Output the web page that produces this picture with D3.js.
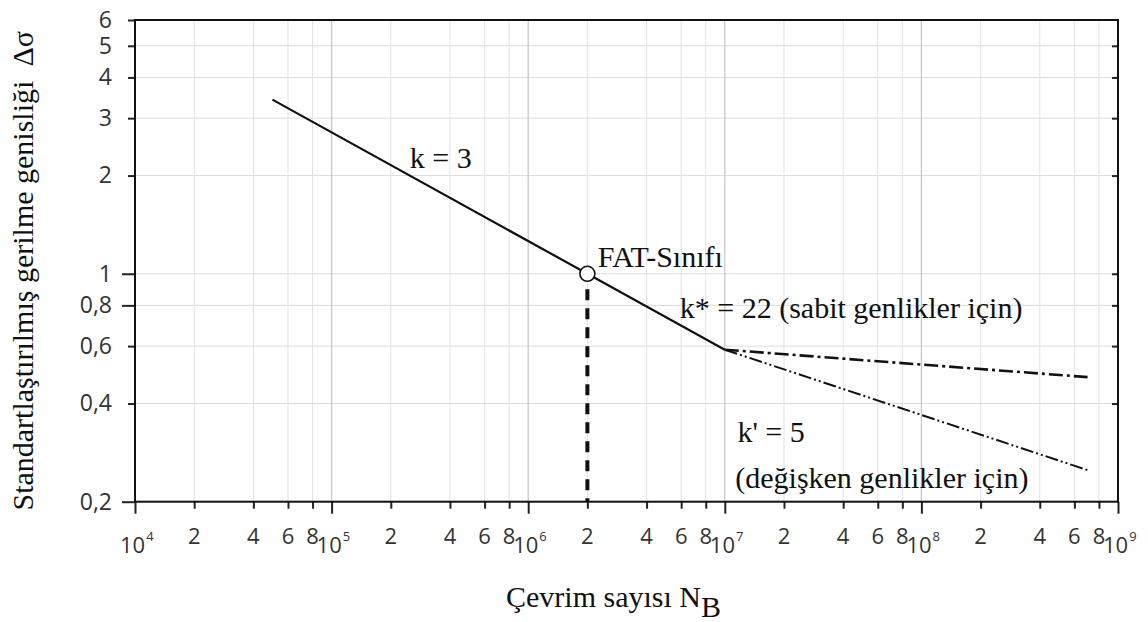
<!DOCTYPE html>
<html>
<head>
<meta charset="utf-8">
<script src="https://cdn.jsdelivr.net/npm/d3@7"></script>
<style>
  body { margin: 0; background: #fff; }
</style>
</head>
<body>
<svg id="chart"></svg>
<script>
// Eksen değerleri
const decades = [1e4, 1e5, 1e6, 1e7, 1e8, 1e9];
const decadeExponents = ["4", "5", "6", "7", "8", "9"];
const minorFactors = [2, 4, 6, 8];
const yTicks = [6, 5, 4, 3, 2, 1, 0.8, 0.6, 0.4, 0.2];
const yLongTicks = [1, 0.8, 0.2];

// Wöhler eğrisi parçaları [N, Δσ]
const k3Line = [[5e4, 3.42], [2e6, 1], [1e7, 0.585]];
const kStarLine = [[1e7, 0.585], [7e8, 0.482]];
const kPrimeLine = [[1e7, 0.585], [7e8, 0.25]];
const fatPoint = [2e6, 1];

// Metinler (veri koordinatlarında)
const annotations = [
  { text: "k = 3", n: 2.5e5, s: 2.11 },
  { text: "FAT-Sınıfı", n: 2.26e6, s: 1.05 },
  { text: "k* = 22 (sabit genlikler için)", n: 5.9e6, s: 0.732 },
  { text: "k' = 5", n: 1.16e7, s: 0.305 },
  { text: "(değişken genlikler için)", n: 1.13e7, s: 0.221 }
];

const width = 1148, height = 622;
const margin = { left: 135, right: 30, top: 20, bottom: 120 };
const serif = "'Liberation Serif', 'Times New Roman', serif";
const sans = "'Open Sans', 'Noto Sans', sans-serif";

const svg = d3.select("#chart")
  .attr("width", width)
  .attr("height", height)
  .style("background", "#fff");

const x = d3.scaleLog()
  .domain([1e4, 1e9])
  .range([margin.left, width - margin.right]);

const y = d3.scaleLog()
  .domain([0.2, 6])
  .range([height - margin.bottom - 0.3, margin.top]);

const [x0, x1] = x.range();
const [yBottom, yTop] = y.range();

const minorTicks = decades.slice(0, -1).flatMap(d => minorFactors.map(f => d * f));

// Izgara
const grid = svg.append("g");
grid.selectAll(".hgrid")
  .data(yTicks.filter(v => v !== 6 && v !== 0.2))
  .enter().append("line")
  .attr("x1", x0).attr("x2", x1)
  .attr("y1", d => y(d)).attr("y2", d => y(d))
  .attr("stroke", "#dcdcdc")
  .attr("stroke-width", 1);

grid.selectAll(".vminor")
  .data(minorTicks)
  .enter().append("line")
  .attr("x1", d => x(d)).attr("x2", d => x(d))
  .attr("y1", yTop).attr("y2", yBottom)
  .attr("stroke", "#e2e2e2")
  .attr("stroke-width", 1);

grid.selectAll(".vmajor")
  .data(decades.slice(1, -1))
  .enter().append("line")
  .attr("x1", d => x(d)).attr("x2", d => x(d))
  .attr("y1", yTop).attr("y2", yBottom)
  .attr("stroke", "#c4c4c4")
  .attr("stroke-width", 1.2);

// Eğriler
const line = d3.line()
  .x(d => x(d[0]))
  .y(d => y(d[1]));

svg.append("path")
  .datum(k3Line)
  .attr("d", line)
  .attr("fill", "none")
  .attr("stroke", "#111")
  .attr("stroke-width", 2.2);

svg.append("path")
  .datum(kStarLine)
  .attr("d", line)
  .attr("fill", "none")
  .attr("stroke", "#111")
  .attr("stroke-width", 2.6)
  .attr("stroke-dasharray", "14,4,3,4");

svg.append("path")
  .datum(kPrimeLine)
  .attr("d", line)
  .attr("fill", "none")
  .attr("stroke", "#111")
  .attr("stroke-width", 2)
  .attr("stroke-dasharray", "13,3,2,3,2,3");

// FAT noktası ve kesikli dikey çizgi
const r = 7.5;
svg.append("line")
  .attr("x1", x(fatPoint[0])).attr("x2", x(fatPoint[0]))
  .attr("y1", y(fatPoint[1]) + r + 8)
  .attr("y2", yBottom)
  .attr("stroke", "#111")
  .attr("stroke-width", 4)
  .attr("stroke-dasharray", "11,8");

svg.append("circle")
  .attr("cx", x(fatPoint[0]))
  .attr("cy", y(fatPoint[1]))
  .attr("r", r)
  .attr("fill", "#fff")
  .attr("stroke", "#111")
  .attr("stroke-width", 1.6);

// Eksenler
const axisStyle = g => {
  g.select(".domain").remove();
  g.selectAll("line").attr("stroke", "#222").attr("stroke-width", 2);
};

svg.append("g")
  .attr("transform", `translate(${x0},0)`)
  .call(d3.axisLeft(y).tickValues(yTicks.filter(v => !yLongTicks.includes(v))).tickSize(7).tickFormat(""))
  .call(axisStyle);

svg.append("g")
  .attr("transform", `translate(${x0},0)`)
  .call(d3.axisLeft(y).tickValues(yLongTicks).tickSize(13).tickFormat(""))
  .call(axisStyle);

// Y etiketleri
svg.append("g")
  .attr("transform", `translate(${x0},0)`)
  .call(d3.axisLeft(y).tickValues(yTicks).tickSize(0).tickPadding(23)
    .tickFormat(d => String(d).replace(".", ",")))
  .call(g => g.select(".domain").remove())
  .selectAll("text")
  .attr("font-family", sans)
  .attr("font-size", 23)
  .attr("fill", "#333");

// Sağ eksen iç çentikleri
svg.append("g")
  .attr("transform", `translate(${x1},0)`)
  .call(d3.axisLeft(y).tickValues(yTicks.filter(v => v !== 6 && v !== 0.2)).tickSize(6).tickFormat(""))
  .call(axisStyle);

svg.append("g")
  .attr("transform", `translate(0,${yBottom})`)
  .call(d3.axisBottom(x).tickValues(minorTicks).tickSize(7).tickFormat(""))
  .call(axisStyle);

svg.append("g")
  .attr("transform", `translate(0,${yBottom})`)
  .call(d3.axisBottom(x).tickValues(decades).tickSize(12).tickFormat(""))
  .call(axisStyle);

// Çerçeve
svg.append("rect")
  .attr("x", x0).attr("y", yTop)
  .attr("width", x1 - x0).attr("height", yBottom - yTop)
  .attr("fill", "none")
  .attr("stroke", "#111")
  .attr("stroke-width", 2);

// X etiketleri
svg.append("g").selectAll("text")
  .data(minorTicks)
  .enter().append("text")
  .attr("x", d => x(d))
  .attr("y", yBottom + 42)
  .attr("text-anchor", "middle")
  .attr("font-family", sans)
  .attr("font-size", 22)
  .attr("fill", "#333")
  .text(d => Math.round(d / Math.pow(10, Math.floor(Math.log10(d) + 1e-9))));

const decadeLabels = svg.append("g").selectAll("text")
  .data(decades)
  .enter().append("text")
  .attr("x", d => x(d) - 15)
  .attr("y", yBottom + 51)
  .attr("font-family", sans)
  .attr("font-size", 22)
  .attr("fill", "#333");

decadeLabels.append("tspan").text("10");
decadeLabels.append("tspan")
  .attr("dy", -12)
  .attr("dx", 1)
  .attr("font-size", 13)
  .text((d, i) => decadeExponents[i]);

// Açıklamalar
svg.append("g").selectAll("text")
  .data(annotations)
  .enter().append("text")
  .attr("x", d => x(d.n))
  .attr("y", d => y(d.s))
  .attr("font-family", serif)
  .attr("font-size", 30)
  .attr("fill", "#111")
  .text(d => d.text);

// Eksen başlıkları
const xTitle = svg.append("text")
  .attr("x", (x0 + x1) / 2 - 13)
  .attr("y", 607)
  .attr("text-anchor", "middle")
  .attr("font-family", serif)
  .attr("font-size", 30)
  .attr("fill", "#111");
xTitle.append("tspan").text("Çevrim sayısı N");
xTitle.append("tspan").attr("dy", 10).text("B");

const yTitle = svg.append("text")
  .attr("transform", `translate(33,${(yTop + yBottom) / 2 + 10}) rotate(-90)`)
  .attr("text-anchor", "middle")
  .attr("font-family", serif)
  .attr("font-size", 30)
  .attr("fill", "#111");
yTitle.append("tspan").text("Standartlaştırılmış gerilme genisliği");
yTitle.append("tspan").attr("dx", 14).text("Δσ");
</script>
</body>
</html>
